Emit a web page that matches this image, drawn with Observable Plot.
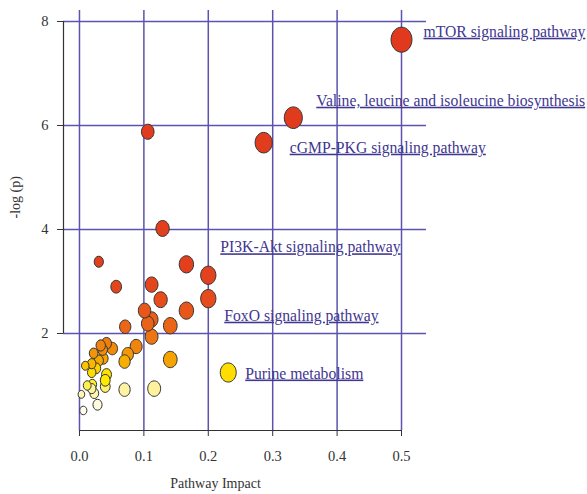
<!DOCTYPE html>
<html>
<head>
<meta charset="utf-8">
<script src="https://cdn.jsdelivr.net/npm/d3@7"></script>
<script src="https://cdn.jsdelivr.net/npm/@observablehq/plot@0.6"></script>
<style>
  body { margin: 0; background: #fff; }
</style>
</head>
<body>
<div id="chart"></div>
<script>
// ---- data ----
const impact = [0.500, 0.332, 0.286, 0.106, 0.129, 0.030, 0.166, 0.200, 0.057, 0.112,
                0.126, 0.200, 0.166, 0.101, 0.112, 0.106, 0.141, 0.071, 0.112, 0.088,
                0.075, 0.070, 0.141, 0.231, 0.116, 0.070,
                0.033, 0.042, 0.036, 0.051, 0.022, 0.030, 0.037, 0.009, 0.019, 0.026,
                0.019, 0.042, 0.040, 0.040, 0.012, 0.020, 0.019, 0.023, 0.003, 0.028, 0.006];
const negLogP = [7.65, 6.15, 5.67, 5.88, 4.02, 3.38, 3.33, 3.12, 2.90, 2.94,
                 2.65, 2.67, 2.44, 2.44, 2.27, 2.19, 2.15, 2.13, 1.94, 1.75,
                 1.60, 1.46, 1.50, 1.25, 0.94, 0.92,
                 1.77, 1.81, 1.69, 1.71, 1.62, 1.48, 1.52, 1.38, 1.42, 1.33,
                 1.25, 1.21, 1.10, 0.98, 1.00, 1.02, 0.94, 0.85, 0.83, 0.63, 0.52];
const labelNames = ["mTOR signaling pathway", "Valine, leucine and isoleucine biosynthesis",
                    "cGMP-PKG signaling pathway", "PI3K-Akt signaling pathway",
                    "FoxO signaling pathway", "Purine metabolism"];
const labelPoint = [0, 1, 2, 7, 11, 23];   // index of the labelled pathway
const xTicks = [0, 0.1, 0.2, 0.3, 0.4, 0.5];
const yTicks = [2, 4, 6, 8];
const xTitle = "Pathway Impact";
const yTitle = "-log (p)";

// ---- build table ----
const points = impact.map((v, i) => ({impact: v, logp: negLogP[i]}))
  .sort((a, b) => a.logp - b.logp);
const labelled = labelNames.map((name, i) => ({name, impact: impact[labelPoint[i]], logp: negLogP[labelPoint[i]]}));

// ---- layout / style ----
const gridColor = "#5b53ad";
const labelColor = "#3f3790";
const axisColor = "#333";
const labelOffsets = [[22, -8], [23, -17], [26, 5], [12, -28], [16, 17], [17, 1]];
const xDomain = [-0.0248, 0.5388];
const yDomain = [0.1346, 8.2115];

const ellipse = {
  draw(ctx, size) {
    const r = Math.sqrt(size / Math.PI);
    const rx = r * 0.91, ry = r * 1.09, k = 0.5523;
    ctx.moveTo(rx, 0);
    ctx.bezierCurveTo(rx, ry * k, rx * k, ry, 0, ry);
    ctx.bezierCurveTo(-rx * k, ry, -rx, ry * k, -rx, 0);
    ctx.bezierCurveTo(-rx, -ry * k, -rx * k, -ry, 0, -ry);
    ctx.bezierCurveTo(rx * k, -ry, rx, -ry * k, rx, 0);
    ctx.closePath();
  }
};

const labelMarks = labelled.map((d, i) => Plot.text([d], {
  x: "impact", y: "logp", text: "name",
  dx: labelOffsets[i][0], dy: labelOffsets[i][1],
  textAnchor: "start", fill: labelColor, fontSize: 15.7
}));

const chart = Plot.plot({
  width: 587,
  height: 494,
  marginLeft: 63,
  marginRight: 161,
  marginTop: 10,
  marginBottom: 64,
  style: {fontFamily: "'Liberation Serif', 'DejaVu Serif', serif", fontSize: "14px", color: axisColor, background: "#fff"},
  x: {domain: xDomain, axis: null},
  y: {domain: yDomain, axis: null},
  r: {type: "sqrt", domain: [0, 0.5], range: [3, 11.5]},
  color: {
    type: "linear",
    domain: [0.5, 0.75, 0.95, 1.05, 1.3, 1.5, 1.8, 2.2, 2.7, 3.2, 8],
    range: ["#fffef2", "#fff8cc", "#fff29a", "#fff000", "#ffd800", "#f5a300", "#ef7f10", "#ea6118", "#e54a1c", "#e2401d", "#e0381d"],
    interpolate: "rgb"
  },
  marks: [
    Plot.ruleY(yTicks, {stroke: gridColor, strokeWidth: 1.5}),
    Plot.ruleX(xTicks, {stroke: gridColor, strokeWidth: 1.5}),
    Plot.ruleX([xDomain[0]], {y1: yTicks[0], y2: yTicks[yTicks.length - 1], stroke: axisColor, strokeWidth: 1.2}),
    Plot.ruleY([yDomain[0]], {x1: xTicks[0], x2: xTicks[xTicks.length - 1], stroke: axisColor, strokeWidth: 1.2}),
    Plot.axisX(xTicks, {tickSize: 6, tickPadding: 14, tickFormat: d3.format(".1f"), stroke: axisColor, fill: axisColor, fontSize: 14.5, label: null}),
    Plot.axisY(yTicks, {tickSize: 6, tickPadding: 9, tickFormat: d3.format("d"), stroke: axisColor, fill: axisColor, fontSize: 14.5, label: null}),
    Plot.text([xTitle], {frameAnchor: "bottom", dx: -29.5, dy: 57, fontSize: 14, fill: axisColor}),
    Plot.text([yTitle], {frameAnchor: "left", dx: -48, dy: -2, rotate: -90, fontSize: 14, fill: axisColor}),
    Plot.dot(points, {x: "impact", y: "logp", r: "impact", fill: "logp", stroke: "#333", strokeWidth: 1, symbol: ellipse}),
    ...labelMarks
  ]
});

chart.querySelectorAll("text").forEach(t => {
  if (labelNames.includes(t.textContent)) t.style.textDecoration = "underline";
});
document.getElementById("chart").appendChild(chart);
</script>
</body>
</html>
